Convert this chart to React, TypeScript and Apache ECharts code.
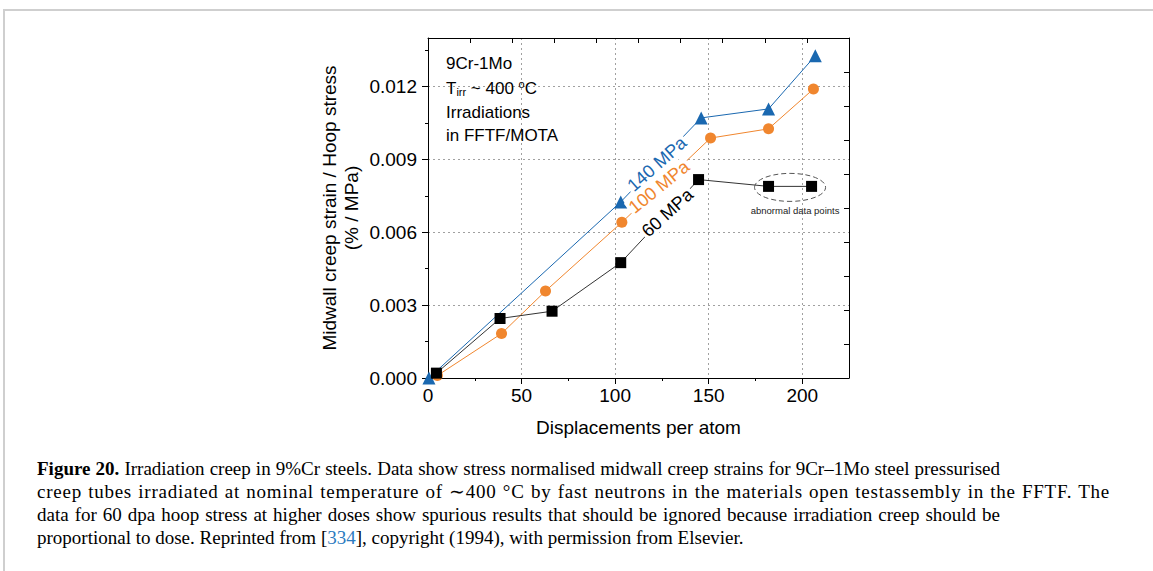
import React, { useEffect, useRef } from "react";
import * as echarts from "echarts";

// ---- data ----
const dpa140 = [0.5, 103, 146, 182, 207];
const val140 = [0.0, 0.00725, 0.01071, 0.01108, 0.01327];
const dpa100 = [5, 39.3, 62.8, 103.6, 151, 182, 206];
const val100 = [0.0001, 0.00183, 0.00358, 0.00641, 0.00988, 0.01026, 0.0119];
const dpa60 = [4.5, 38.5, 66.3, 103, 144.6, 182, 205];
const val60 = [0.0002, 0.00245, 0.00275, 0.00475, 0.00817, 0.00789, 0.00789];

const xTicks = [0, 50, 100, 150, 200];
const xMinor = [25, 75, 125, 175];
const yTicks = [0, 0.003, 0.006, 0.009, 0.012];
const yMinor = [0.0015, 0.0045, 0.0075, 0.0105, 0.0135];

const seriesNames = ["140 MPa", "100 MPa", "60 MPa"];
const infoLines = ["9Cr-1Mo", "Irradiations", "in FFTF/MOTA"];
const abnormalLabel = "abnormal data points";

const SANS = '"Liberation Sans", Arial, Helvetica, sans-serif';
const BLUE = "#1a68b0";
const ORANGE = "#f0862e";

export default function App() {
  const ref = useRef<HTMLDivElement>(null);

  useEffect(() => {
    if (!ref.current) return;
    const chart = echarts.init(ref.current, undefined, { renderer: "svg" });
    const pair = (xs: number[], ys: number[]) => xs.map((x, i) => [x, ys[i]]);

    const baseAxis = {
      axisLine: { show: true, onZero: false, lineStyle: { color: "#000", width: 1 } },
      splitLine: { show: false },
      axisLabel: { show: false },
    };

    chart.setOption({
      animation: false,
      grid: { left: 428, top: 38, width: 421, height: 340, containLabel: false },
      xAxis: [
        {
          ...baseAxis,
          type: "value",
          min: 0,
          max: 225,
          interval: 50,
          position: "bottom",
          axisTick: { show: true, inside: false, length: 6, customValues: xTicks, lineStyle: { color: "#000" } },
          axisLabel: {
            show: true,
            customValues: xTicks,
            formatter: (v: number) => String(v),
            fontSize: 19,
            fontFamily: SANS,
            color: "#000",
            margin: 8,
          },
          splitLine: { show: true, lineStyle: { type: [2, 3], color: "#a0a0a0", width: 1 } },
          name: "Displacements per atom",
          nameLocation: "middle",
          nameGap: 40,
          nameTextStyle: { fontSize: 19, fontFamily: SANS, color: "#000" },
        },
        {
          ...baseAxis,
          type: "value",
          min: 0,
          max: 225,
          position: "bottom",
          axisLine: { show: false, onZero: false },
          axisTick: { show: true, inside: false, length: 3, customValues: xMinor, lineStyle: { color: "#000" } },
        },
        {
          ...baseAxis,
          type: "value",
          min: 0,
          max: 10,
          interval: 1,
          position: "top",
          axisTick: { show: true, inside: true, length: 5, lineStyle: { color: "#000" } },
        },
      ],
      yAxis: [
        {
          ...baseAxis,
          type: "value",
          min: 0,
          max: 0.014,
          interval: 0.003,
          position: "left",
          axisTick: { show: true, inside: false, length: 6, customValues: yTicks, lineStyle: { color: "#000" } },
          axisLabel: {
            show: true,
            customValues: yTicks,
            formatter: (v: number) => v.toFixed(3),
            fontSize: 19,
            fontFamily: SANS,
            color: "#000",
            margin: 11,
          },
          splitLine: { show: true, lineStyle: { type: [2, 3], color: "#a0a0a0", width: 1 } },
          name: "Midwall creep strain / Hoop stress\n(% / MPa)",
          nameLocation: "middle",
          nameRotate: 90,
          nameGap: 66,
          nameTextStyle: { fontSize: 19, fontFamily: SANS, color: "#000", lineHeight: 22 },
        },
        {
          ...baseAxis,
          type: "value",
          min: 0,
          max: 0.014,
          position: "left",
          axisLine: { show: false, onZero: false },
          axisTick: { show: true, inside: false, length: 3, customValues: yMinor, lineStyle: { color: "#000" } },
        },
        {
          ...baseAxis,
          type: "value",
          min: 0,
          max: 10,
          interval: 1,
          position: "right",
          axisTick: { show: true, inside: true, length: 5, lineStyle: { color: "#000" } },
        },
      ],
      series: [
        {
          name: seriesNames[1],
          type: "line",
          xAxisIndex: 0,
          yAxisIndex: 0,
          data: pair(dpa100, val100),
          symbol: "circle",
          symbolSize: 11,
          itemStyle: { color: ORANGE },
          lineStyle: { color: ORANGE, width: 1 },
          z: 3,
        },
        {
          name: seriesNames[0],
          type: "line",
          xAxisIndex: 0,
          yAxisIndex: 0,
          data: pair(dpa140, val140),
          symbol: "triangle",
          symbolSize: 13,
          itemStyle: { color: BLUE },
          lineStyle: { color: BLUE, width: 1 },
          z: 3,
        },
        {
          name: seriesNames[2],
          type: "line",
          xAxisIndex: 0,
          yAxisIndex: 0,
          data: pair(dpa60, val60),
          symbol: "rect",
          symbolSize: 11,
          itemStyle: { color: "#000" },
          lineStyle: { color: "#333", width: 1 },
          z: 3,
        },
      ],
    });

    const px = (x: number, y: number) =>
      chart.convertToPixel({ xAxisIndex: 0, yAxisIndex: 0 }, [x, y]) as number[];

    const segLabel = (xs: number[], ys: number[], i: number, t: number, text: string, color: string) => {
      const a = px(xs[i], ys[i]);
      const b = px(xs[i + 1], ys[i + 1]);
      const cx = a[0] + (b[0] - a[0]) * t;
      const cy = a[1] + (b[1] - a[1]) * t;
      const ang = Math.atan2(-(b[1] - a[1]), b[0] - a[0]) - 0.08;
      return {
        type: "text",
        x: cx,
        y: cy,
        rotation: ang,
        z: 5,
        style: {
          text,
          fill: color,
          fontSize: 18,
          fontFamily: SANS,
          align: "center",
          verticalAlign: "middle",
          backgroundColor: "#fff",
          padding: [0, 2],
        },
      };
    };

    const origin = px(0, 0.014);
    const ox = origin[0] + 18;
    const oy = origin[1];
    const ab1 = px(dpa60[5], val60[5]);
    const ab2 = px(dpa60[6], val60[6]);
    const ecx = (ab1[0] + ab2[0]) / 2;
    const ecy = (ab1[1] + ab2[1]) / 2 + 1;

    chart.setOption({
      graphic: [
        segLabel(dpa140, val140, 1, 0.45, seriesNames[0], BLUE),
        segLabel(dpa100, val100, 3, 0.42, seriesNames[1], ORANGE),
        segLabel(dpa60, val60, 3, 0.6, seriesNames[2], "#000"),
        {
          type: "text",
          x: ox,
          y: oy + 25,
          z: 5,
          style: { text: infoLines[0], fill: "#000", fontSize: 17, fontFamily: SANS, verticalAlign: "middle" },
        },
        {
          type: "text",
          x: ox,
          y: oy + 50,
          z: 5,
          style: {
            text: "{m|T}{s|irr}{m| ~ 400 }{u|o}{m|C}",
            fill: "#000",
            fontFamily: SANS,
            verticalAlign: "middle",
            rich: {
              m: { fontSize: 17, fontFamily: SANS, fill: "#000" },
              s: { fontSize: 11, fontFamily: SANS, fill: "#000", padding: [8, 0, 0, 0] },
              u: { fontSize: 11, fontFamily: SANS, fill: "#000", padding: [0, 0, 8, 0] },
            },
          },
        },
        {
          type: "text",
          x: ox,
          y: oy + 74,
          z: 5,
          style: { text: infoLines[1], fill: "#000", fontSize: 17, fontFamily: SANS, verticalAlign: "middle" },
        },
        {
          type: "text",
          x: ox,
          y: oy + 97,
          z: 5,
          style: { text: infoLines[2], fill: "#000", fontSize: 17, fontFamily: SANS, verticalAlign: "middle" },
        },
        {
          type: "ellipse",
          z: 4,
          shape: { cx: ecx, cy: ecy, rx: (ab2[0] - ab1[0]) / 2 + 14, ry: 14 },
          style: { fill: "none", stroke: "#555", lineWidth: 1, lineDash: [5, 3] },
        },
        {
          type: "text",
          x: ecx + 5,
          y: ecy + 23,
          z: 5,
          style: {
            text: abnormalLabel,
            fill: "#222",
            fontSize: 9.5,
            fontFamily: SANS,
            align: "center",
            verticalAlign: "middle",
          },
        },
      ],
    });

    return () => chart.dispose();
  }, []);

  const lineStyle = (w: number, justify: boolean, ls = 0): React.CSSProperties => ({
    width: w,
    whiteSpace: "nowrap",
    textAlign: justify ? "justify" : "left",
    textAlignLast: justify ? "justify" : "left",
    letterSpacing: ls,
    height: 23,
  });

  return (
    <div
      style={{
        position: "absolute",
        left: 0,
        top: 0,
        width: 1153,
        height: 571,
        overflow: "hidden",
        background: "#fff",
      }}
    >
      <div
        style={{
          position: "absolute",
          left: 3,
          top: 9,
          width: 1200,
          height: 600,
          borderTop: "2px solid #cfcfcf",
          borderLeft: "2px solid #cfcfcf",
        }}
      />
      <div ref={ref} style={{ position: "absolute", left: 0, top: 0, width: 1153, height: 450 }} />
      <div
        style={{
          position: "absolute",
          left: 37,
          top: 457,
          fontFamily: '"Liberation Serif", "Times New Roman", serif',
          fontSize: 19,
          lineHeight: "23px",
          color: "#000",
        }}
      >
        <div style={lineStyle(963, true)}>
          <b>Figure 20.</b> Irradiation creep in 9%Cr steels. Data show stress normalised midwall creep strains for
          9Cr–1Mo steel pressurised
        </div>
        <div style={lineStyle(1073, true, 0.75)}>
          creep tubes irradiated at nominal temperature of ∼400 °C by fast neutrons in the materials open
          testassembly in the FFTF. The
        </div>
        <div style={lineStyle(963, true)}>
          data for 60 dpa hoop stress at higher doses show spurious results that should be ignored because
          irradiation creep should be
        </div>
        <div style={lineStyle(720, false)}>
          proportional to dose. Reprinted from [<span style={{ color: "#2b7bbf" }}>334</span>], copyright (1994),
          with permission from Elsevier.
        </div>
      </div>
    </div>
  );
}
